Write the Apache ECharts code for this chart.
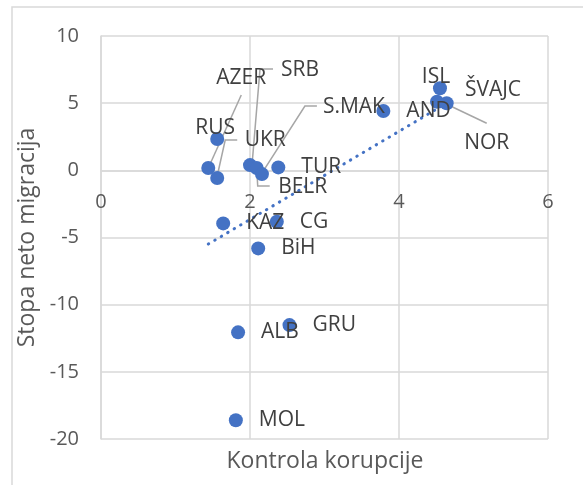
<!DOCTYPE html>
<html>
<head>
<meta charset="utf-8">
<script src="https://cdn.jsdelivr.net/npm/echarts@6/dist/echarts.min.js"></script>
<style>
  html, body { margin: 0; padding: 0; background: #fff; }
  #main { width: 583px; height: 485px; }
</style>
</head>
<body>
<div id="main"></div>
<script>
// data
var countries = ['RUS', 'AZER', 'UKR', 'SRB', 'BELR', 'S.MAK', 'TUR', 'AND', 'ISL', 'ŠVAJC', 'NOR', 'KAZ', 'CG', 'BiH', 'ALB', 'GRU', 'MOL'];
var korupcija = [1.56, 1.44, 1.56, 2.00, 2.09, 2.16, 2.38, 3.79, 4.55, 4.51, 4.64, 1.64, 2.36, 2.11, 1.84, 2.53, 1.81];
var migracija = [2.33, 0.17, -0.57, 0.39, 0.17, -0.28, 0.22, 4.42, 6.11, 5.11, 4.99, -3.95, -3.83, -5.81, -12.06, -11.52, -18.6];

// label placement (pixel offsets of label centre from the marker) and leader lines
var labelOffsets = {
  'RUS': [-2, -11], 'AZER': [33, -90], 'SRB': [50, -95], 'UKR': [48, -38],
  'S.MAK': [92, -67], 'BELR': [46, 19], 'ISL': [-4, -11], 'ŠVAJC': [56, -12], 'NOR': [40, 40]
};
var leaders = {
  'AZER': [[33, -73], [0, 0]],
  'SRB': [[23, -96], [10, -96], [2, 0]],
  'UKR': [[20, -38], [8, -38], [0, -2]],
  'S.MAK': [[55, -68], [43, -68], [0, -1]],
  'BELR': [[13, 18], [1, 18], [0, 0]],
  'NOR': [[-2, 0], [40, 20]]
};

var FONT = 'Open Sans';
var BLUE = '#4472C4';
var GRID = '#d9d9d9';
var GRID_BOTTOM = 46;

// linear trendline (least squares), like Excel's
var n = korupcija.length, sx = 0, sy = 0, sxx = 0, sxy = 0;
for (var i = 0; i < n; i++) {
  sx += korupcija[i]; sy += migracija[i];
  sxx += korupcija[i] * korupcija[i]; sxy += korupcija[i] * migracija[i];
}
var slope = (n * sxy - sx * sy) / (n * sxx - sx * sx);
var icept = (sy - slope * sx) / n;
var xMin = Math.min.apply(null, korupcija), xMax = Math.max.apply(null, korupcija);
var trend = [[xMin, icept + slope * xMin], [xMax, icept + slope * xMax]];

var points = countries.map(function (c, i) {
  var item = { name: c, value: [korupcija[i], migracija[i]] };
  if (labelOffsets[c]) {
    item.label = { position: 'inside', offset: labelOffsets[c], align: 'center', verticalAlign: 'middle' };
  }
  return item;
});

var leaderData = countries.map(function (c, i) {
  return [korupcija[i], migracija[i], i];
}).filter(function (d) { return leaders[countries[d[2]]]; });

var option = {
  animation: false,
  backgroundColor: '#fff',
  grid: { left: 101, right: 35, top: 36, bottom: GRID_BOTTOM },
  xAxis: {
    type: 'value', min: 0, max: 6, interval: 2,
    axisLine: { show: true, onZero: false, lineStyle: { color: GRID, width: 1.5 } },
    axisTick: { show: false },
    axisLabel: { margin: 22, fontFamily: FONT, fontSize: 20, color: '#595959' },
    splitLine: { show: true, lineStyle: { color: GRID, width: 1.5 } }
  },
  yAxis: {
    type: 'value', min: -20, max: 10, interval: 5,
    name: 'Stopa neto migracija', nameLocation: 'middle', nameRotate: 90, nameGap: 57,
    nameTextStyle: { fontFamily: FONT, fontSize: 23, color: '#595959' },
    axisLine: { show: true, lineStyle: { color: GRID, width: 1.5 } },
    axisTick: { show: false },
    axisLabel: { margin: 22, fontFamily: FONT, fontSize: 20, color: '#595959' },
    splitLine: { show: true, lineStyle: { color: GRID, width: 1.5 } }
  },
  graphic: [
    { type: 'rect', shape: { x: 12, y: 7, width: 700, height: 700 }, style: { fill: 'none', stroke: GRID, lineWidth: 1.5 }, silent: true },
    { type: 'text', x: 325, y: 461, style: { text: 'Kontrola korupcije', font: '23px "' + FONT + '"', fill: '#595959', textAlign: 'center', textVerticalAlign: 'middle' } }
  ],
  series: [
    {
      type: 'line', data: trend, showSymbol: false, symbol: 'none', z: 3,
      lineStyle: { color: BLUE, width: 3, type: [0.5, 7], cap: 'round' }
    },
    {
      type: 'custom', z: 2, silent: true, data: leaderData,
      renderItem: function (params, api) {
        var p = api.coord([api.value(0), api.value(1)]);
        var segs = leaders[countries[api.value(2)]];
        return {
          type: 'polyline',
          shape: { points: segs.map(function (s) { return [p[0] + s[0], p[1] + s[1]]; }) },
          style: { stroke: '#a6a6a6', lineWidth: 1.5, fill: 'none' }
        };
      }
    },
    {
      type: 'scatter', data: points, symbolSize: 14, z: 4,
      itemStyle: { color: BLUE, opacity: 1 },
      label: {
        show: true, formatter: '{b}', position: 'right', distance: 16,
        fontFamily: FONT, fontSize: 21, color: '#404040'
      }
    }
  ]
};

var myChart = echarts.init(document.getElementById('main'));
myChart.setOption(option);
// move the horizontal axis (line and labels) up to y = 0, like Excel does
var zeroY = myChart.convertToPixel({ yAxisIndex: 0 }, 0);
var bottomY = myChart.getHeight() - GRID_BOTTOM;
myChart.setOption({ xAxis: { offset: -(bottomY - zeroY) } });
</script>
</body>
</html>
